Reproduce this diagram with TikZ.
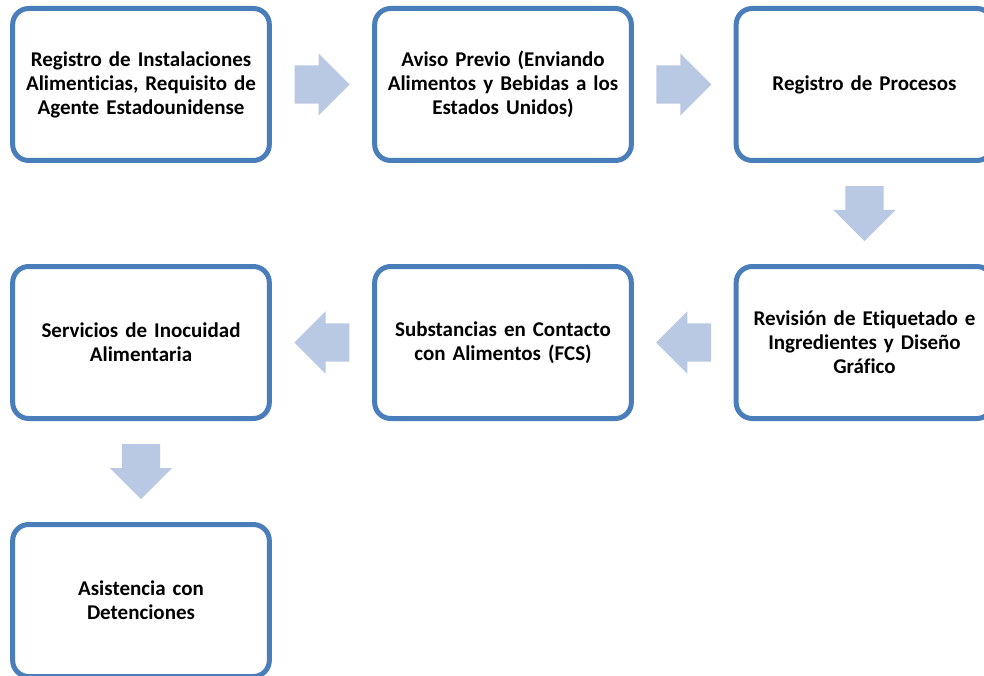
\documentclass[tikz,border=0pt]{standalone}
\usepackage{fontspec}
\setmainfont{Carlito}[Ligatures=NoCommon]
\usetikzlibrary{shapes.arrows, calc}
\definecolor{boxblue}{HTML}{4A7EBB}
\definecolor{arrowblue}{HTML}{B9C9E3}

\begin{document}
\begin{tikzpicture}[
		x=1pt, y=-1pt,
		stage/.style={rectangle, draw=boxblue, line width=5pt, rounded corners=16pt,
			minimum width=255pt, minimum height=152pt, text width=250pt, align=center,
			font=\fontsize{21}{24}\selectfont\bfseries},
		flow/.style={single arrow, fill=arrowblue, draw=none, inner xsep=0pt, inner ysep=19pt,
			minimum height=55pt, minimum width=62pt, anchor=tail,
			single arrow head extend=12pt, single arrow head indent=0pt}
		]
		
		% --- Page frame ---
		\useasboundingbox (0,0) rectangle (984,676);
		\fill[white] (0,0) rectangle (984,676);
		
		% --- Top Row ---
		\node[stage] (reg_inst) at (141,84.5) {Registro de Instalaciones\\Alimenticias, Requisito de\\Agente Estadounidense};
		\node[stage] (aviso) at (503,84.5) {Aviso Previo (Enviando\\Alimentos y Bebidas a los\\Estados Unidos)};
		\node[stage] (reg_proc) at (864.5,84.5) {Registro de Procesos};
		
		% --- Middle Row ---
		\node[stage] (etiquetado) at (864.5,342.5) {Revisión de Etiquetado e\\Ingredientes y Diseño\\Gráfico};
		\node[stage] (fcs) at (503,342.5) {Substancias en Contacto\\con Alimentos (FCS)};
		\node[stage] (inocuidad) at (141,342.5) {Servicios de Inocuidad\\Alimentaria};
		
		% --- Bottom Row ---
		\node[stage] (detenciones) at (141,600.5) {Asistencia con\\Detenciones};
		
		% --- Block Arrows between the stages (placed by their tails) ---
		\node[flow] (a_1) at ($(reg_inst.east)!0.5!(aviso.west)+(-27.5,0)$) {};
		\node[flow] (a_2) at ($(aviso.east)!0.5!(reg_proc.west)+(-27.5,0)$) {};
		\node[flow, rotate=-90] (a_3) at ($(reg_proc.south)!0.5!(etiquetado.north)+(0,-27.5)$) {};
		\node[flow, rotate=180] (a_4) at ($(etiquetado.west)!0.5!(fcs.east)+(27.5,0)$) {};
		\node[flow, rotate=180] (a_5) at ($(fcs.west)!0.5!(inocuidad.east)+(27.5,0)$) {};
		\node[flow, rotate=-90] (a_6) at ($(inocuidad.south)!0.5!(detenciones.north)+(0,-27.5)$) {};
		
	\end{tikzpicture}
\end{document}
